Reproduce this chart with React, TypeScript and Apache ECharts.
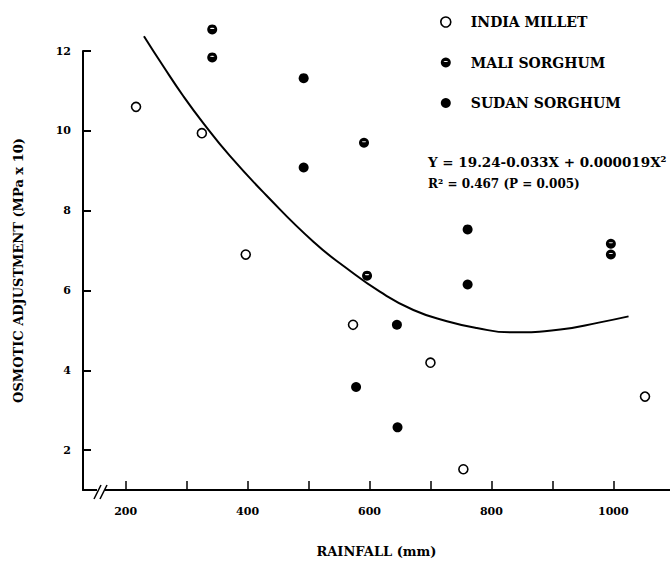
import React, { useEffect, useRef } from "react";
import * as echarts from "echarts";

// ---- data ----
const indiaRainfall = [217, 325, 397, 573, 700, 754, 1052];
const indiaOA = [10.6, 9.94, 6.9, 5.14, 4.19, 1.52, 3.34];

const maliRainfall = [342, 342, 591, 596, 996, 996];
const maliOA = [12.54, 11.84, 9.7, 6.37, 7.17, 6.9];

const sudanRainfall = [492, 492, 761, 761, 645, 578, 646];
const sudanOA = [11.32, 9.08, 7.53, 6.15, 5.14, 3.58, 2.57];

const curveRainfall = [230, 262, 295, 327, 371, 431, 508, 563, 617, 672, 727, 776, 831, 913, 978, 1025];
const curveOA = [12.37, 11.61, 10.86, 10.2, 9.37, 8.38, 7.22, 6.55, 5.97, 5.51, 5.23, 5.06, 4.95, 5.02, 5.2, 5.35];

const xTickValues = [200, 300, 400, 500, 600, 700, 800, 900, 1000];
const xLabelValues = [200, 400, 600, 800, 1000];
const yTickValues = [2, 4, 6, 8, 10, 12];
const xRange = [130, 1093];
const yRange = [1, 12];

const seriesNames = ["INDIA MILLET", "MALI SORGHUM", "SUDAN SORGHUM"];
const equationLines = ["Y = 19.24-0.033X + 0.000019X²", "R² = 0.467 (P = 0.005)"];
const xAxisTitle = "RAINFALL (mm)";
const yAxisTitle = "OSMOTIC ADJUSTMENT (MPa x 10)";

const FONT = '"DejaVu Serif", serif';
const MALI_SYMBOL =
  "path://M10,0 A10,10 0 1,1 9.99,0 Z M6,7.3 L5.8,8.4 Q10,9.6 14.2,8.4 L14,7.3 Q10,6.3 6,7.3 Z";

const zip = (a: number[], b: number[]) => a.map((v, i) => [v, b[i]]);

export default function App() {
  const ref = useRef<HTMLDivElement>(null);

  useEffect(() => {
    if (!ref.current) return;
    const chart = echarts.init(ref.current, undefined, { renderer: "svg" });
    const option: any = {
      animation: false,
      backgroundColor: "#fff",
      grid: { left: 83, right: 0, top: 51, bottom: 70 },
      legend: {
        orient: "vertical",
        left: 440,
        top: 14,
        padding: 0,
        itemWidth: 10,
        itemHeight: 10,
        itemGap: 24.5,
        selectedMode: false,
        textStyle: {
          fontFamily: FONT,
          fontWeight: "bold",
          fontSize: 14,
          color: "#000",
          lineHeight: 16,
          padding: [0, 0, 0, 15],
        },
        data: [
          { name: seriesNames[0], icon: "circle", itemStyle: { color: "#fff", borderColor: "#000", borderWidth: 1.6 } },
          { name: seriesNames[1], icon: MALI_SYMBOL, itemStyle: { color: "#000", borderWidth: 0 } },
          { name: seriesNames[2], icon: "circle", itemStyle: { color: "#000", borderWidth: 0 } },
        ],
      },
      xAxis: {
        type: "value",
        min: xRange[0],
        max: xRange[1],
        name: xAxisTitle,
        nameLocation: "middle",
        nameGap: 55,
        nameTextStyle: { fontFamily: FONT, fontWeight: "bold", fontSize: 13, color: "#000" },
        splitLine: { show: false },
        axisLine: { show: true, lineStyle: { color: "#000", width: 2 } },
        axisTick: { show: true, inside: true, length: 9, customValues: xTickValues, lineStyle: { color: "#000", width: 1.5 } },
        axisLabel: {
          customValues: xLabelValues,
          formatter: (v: number) => String(v),
          margin: 16,
          fontFamily: FONT,
          fontWeight: "bold",
          fontSize: 11,
          color: "#000",
        },
      },
      yAxis: {
        type: "value",
        min: yRange[0],
        max: yRange[1],
        name: yAxisTitle,
        nameLocation: "middle",
        nameGap: 58,
        nameRotate: 90,
        nameTextStyle: { fontFamily: FONT, fontWeight: "bold", fontSize: 13, color: "#000" },
        splitLine: { show: false },
        axisLine: { show: true, lineStyle: { color: "#000", width: 2 } },
        axisTick: { show: true, inside: true, length: 8, customValues: yTickValues, lineStyle: { color: "#000", width: 2 } },
        axisLabel: {
          customValues: yTickValues,
          formatter: (v: number) => String(v),
          margin: 12,
          fontFamily: FONT,
          fontWeight: "bold",
          fontSize: 11,
          color: "#000",
        },
      },
      series: [
        {
          type: "line",
          name: "fit",
          data: zip(curveRainfall, curveOA),
          smooth: 0.5,
          clip: false,
          symbol: "none",
          lineStyle: { color: "#000", width: 2 },
          z: 2,
        },
        {
          type: "scatter",
          name: seriesNames[0],
          data: zip(indiaRainfall, indiaOA),
          clip: false,
          symbol: "circle",
          symbolSize: 9,
          itemStyle: { color: "#fff", borderColor: "#000", borderWidth: 1.6, opacity: 1 },
          z: 3,
        },
        {
          type: "scatter",
          name: seriesNames[1],
          data: zip(maliRainfall, maliOA),
          clip: false,
          symbol: MALI_SYMBOL,
          symbolSize: 10,
          itemStyle: { color: "#000", opacity: 1 },
          z: 3,
        },
        {
          type: "scatter",
          name: seriesNames[2],
          data: zip(sudanRainfall, sudanOA),
          clip: false,
          symbol: "circle",
          symbolSize: 10,
          itemStyle: { color: "#000", opacity: 1 },
          z: 3,
        },
      ],
      graphic: [
        {
          type: "rect",
          z: 100,
          shape: { x: 97, y: 488, width: 8, height: 10 },
          style: { fill: "#fff" },
        },
        {
          type: "line",
          z: 101,
          shape: { x1: 94, y1: 499, x2: 101, y2: 485 },
          style: { stroke: "#000", lineWidth: 1.6 },
        },
        {
          type: "line",
          z: 101,
          shape: { x1: 100, y1: 499, x2: 107, y2: 485 },
          style: { stroke: "#000", lineWidth: 1.6 },
        },
        {
          type: "text",
          z: 100,
          style: {
            text: equationLines[0],
            x: 428,
            y: 162,
            fill: "#000",
            font: `bold 13.5px ${FONT}`,
            verticalAlign: "middle",
          },
        },
        {
          type: "text",
          z: 100,
          style: {
            text: equationLines[1],
            x: 428,
            y: 184,
            fill: "#000",
            font: `bold 12px ${FONT}`,
            verticalAlign: "middle",
          },
        },
      ],
    };
    chart.setOption(option);
    return () => chart.dispose();
  }, []);

  return (
    <div
      ref={ref}
      style={{ position: "fixed", left: 0, top: 0, width: 670, height: 563, background: "#fff" }}
    />
  );
}
